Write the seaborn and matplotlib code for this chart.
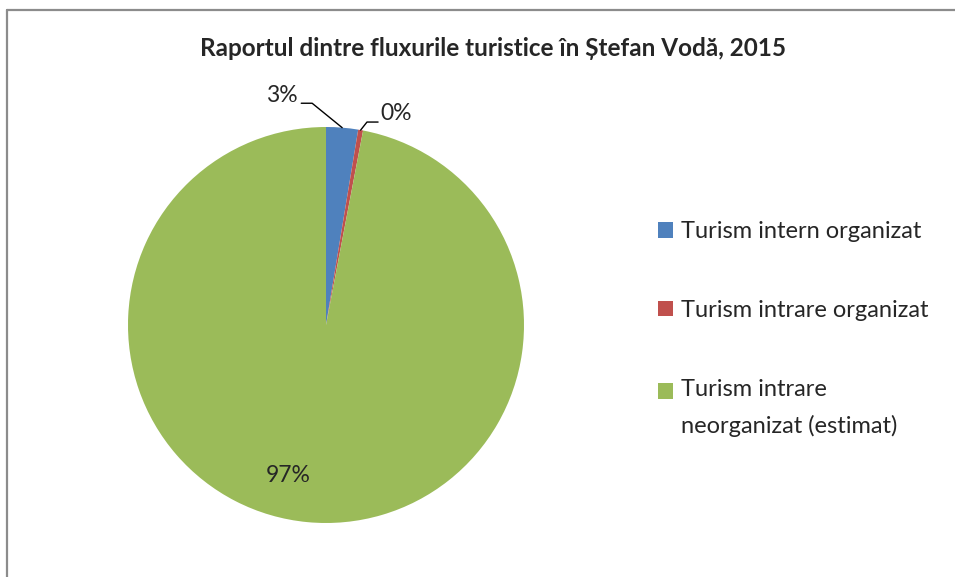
import numpy as np
import matplotlib
matplotlib.use("Agg")
import matplotlib.pyplot as plt
import seaborn as sns
from matplotlib.lines import Line2D
from matplotlib.patches import Patch

categories = ["Turism intern organizat", "Turism intrare organizat",
              "Turism intrare\nneorganizat (estimat)"]
values = [2.6, 0.4, 97.0]
pct_labels = ["3%", "0%", "97%"]
title = "Raportul dintre fluxurile turistice în Ștefan Vodă, 2015"
colors = ["#4F81BD", "#C0504D", "#9BBB59"]

sns.set_theme(style="white")
plt.rcParams['font.family'] = ['Lato', 'DejaVu Sans']

W, H = 955, 577
fig = plt.figure(figsize=(W / 100, H / 100), dpi=100)

# chart border (outer frame)
fig.add_artist(Line2D([7 / W, 7 / W], [0, 1 - 10 / H], transform=fig.transFigure,
                      color="#8c8c8c", lw=1.6))
fig.add_artist(Line2D([7 / W, 1.0], [1 - 10 / H, 1 - 10 / H], transform=fig.transFigure,
                      color="#8c8c8c", lw=1.6))

cx, cy, r = 326, 325, 198
ax = fig.add_axes([(cx - r) / W, 1 - (cy + r) / H, 2 * r / W, 2 * r / H])
wedges, _ = ax.pie(values, colors=colors, startangle=90, counterclock=False,
                   radius=1, wedgeprops=dict(linewidth=0))
ax.set_xlim(-1, 1)
ax.set_ylim(-1, 1)
ax.set_aspect("equal")
ax.axis("off")

def edge_point(w):
    ang = np.deg2rad((w.theta1 + w.theta2) / 2)
    return np.cos(ang), np.sin(ang)

fs = 16.5
# 3% label with leader
x0, y0 = edge_point(wedges[0])
ax.plot([x0, -0.07, -0.125], [y0, 1.12, 1.12], color="black", lw=1.0, clip_on=False)
ax.text(-0.145, 1.16, pct_labels[0], ha="right", va="center", fontsize=fs)
# 0% label with leader
x1, y1 = edge_point(wedges[1])
ax.plot([x1, 0.207, 0.263], [y1, 1.025, 1.025], color="black", lw=1.0, clip_on=False)
ax.text(0.275, 1.07, pct_labels[1], ha="left", va="center", fontsize=fs)
# 97% label
ax.text(-0.19, -0.76, pct_labels[2], ha="center", va="center", fontsize=fs)

fig.text(493 / W, 1 - 48 / H, title, ha="center", va="center",
         fontsize=17.5, fontweight="bold")

handles = [Patch(facecolor=c, edgecolor="none") for c in colors]
leg = fig.legend(handles, categories, loc="upper left",
                 bbox_to_anchor=(637 / W, 1 - 200 / H), frameon=False,
                 fontsize=17, handlelength=0.62, handleheight=0.62,
                 handletextpad=0.35, labelspacing=2.45)
for t in leg.get_texts():
    t.set_linespacing(1.8)
# align the handle of the two-line entry with its first line
p = leg.get_patches()[2]
p.set_y(p.get_y() + 12.2)

fig.savefig("out.png", dpi=100)
